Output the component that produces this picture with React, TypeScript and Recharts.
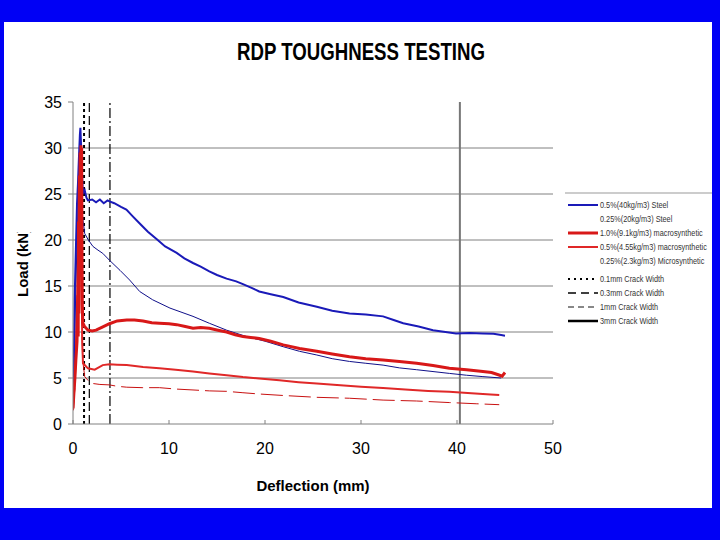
import React from "react";
import {
  LineChart,
  Line,
  XAxis,
  YAxis,
  CartesianGrid,
  ReferenceLine,
  Legend,
  Label,
} from "recharts";

// deflection (mm), load (kN)
const steel40: [number, number][] = [
  [0, 2], [0.08, 6], [0.17, 13.5], [0.3, 19], [0.42, 24], [0.52, 26.2], [0.62, 29],
  [0.72, 31.5], [0.77, 32.2], [0.85, 30], [0.92, 27.5], [1.0, 25.8], [1.1, 25.2],
  [1.22, 25.4], [1.4, 24.6], [1.56, 24.3], [2.0, 24.4], [2.4, 24.1], [2.8, 24.4],
  [3.2, 24.0], [3.6, 24.3], [3.8, 24.2], [4.3, 24.0], [5.0, 23.6], [5.56, 23.3],
  [6.2, 22.6], [6.95, 21.8], [7.8, 20.9], [8.7, 20.1], [9.6, 19.3], [10.8, 18.6],
  [11.6, 18.0], [12.5, 17.5], [13.3, 17.1], [14.2, 16.6], [15.0, 16.2], [16.0, 15.8],
  [17.0, 15.5], [17.7, 15.2], [18.6, 14.8], [19.4, 14.4], [20.6, 14.1], [21.9, 13.8],
  [23.5, 13.2], [25.4, 12.75], [27, 12.3], [28.8, 12.0], [30.5, 11.9], [32.3, 11.7],
  [33.4, 11.3], [34.4, 10.95], [36, 10.6], [37.5, 10.2], [38.8, 10.0], [39.9, 9.85],
  [41.3, 9.9], [42.7, 9.85], [43.8, 9.8], [44.6, 9.67], [45, 9.6],
];

const steel20: [number, number][] = [
  [0, 2], [0.15, 8], [0.3, 15], [0.45, 21], [0.6, 26], [0.72, 29], [0.8, 28], [0.9, 25],
  [1.0, 22.5], [1.22, 20.7], [1.6, 20.0], [2.08, 19.3], [2.6, 18.9], [3.1, 18.55],
  [3.8, 17.8], [4.9, 16.7], [5.9, 15.65], [6.95, 14.4], [8.3, 13.5], [10.1, 12.6],
  [12.5, 11.7], [14.2, 10.95], [16, 10.2], [18.1, 9.5], [20, 9.0], [21.9, 8.4],
  [23.6, 7.9], [25.4, 7.5], [27, 7.1], [28.8, 6.8], [30.5, 6.6], [32.3, 6.4], [34, 6.1],
  [35.8, 5.9], [37.5, 5.7], [39.2, 5.5], [41, 5.3], [42.7, 5.15], [44.6, 5.0],
];

const macro91: [number, number][] = [
  [0, 1.7], [0.1, 3.5], [0.2, 5], [0.3, 7], [0.42, 9], [0.5, 14], [0.54, 9.5], [0.58, 22],
  [0.62, 12], [0.66, 27], [0.7, 16], [0.74, 29.5], [0.78, 20], [0.83, 30.3], [0.87, 24],
  [0.9, 30], [0.94, 18], [0.97, 13], [1.02, 11], [1.2, 10.6], [1.56, 10.2], [2.0, 10.1],
  [2.4, 10.2], [3.0, 10.5], [3.8, 10.9], [4.6, 11.2], [5.6, 11.3], [6.4, 11.3], [7.3, 11.2],
  [8.2, 11.0], [9.0, 10.95], [10.0, 10.9], [10.8, 10.8], [11.7, 10.6], [12.5, 10.4],
  [13.3, 10.5], [14.2, 10.4], [15.1, 10.2], [16, 10.0], [16.9, 9.7], [17.7, 9.5],
  [18.5, 9.4], [19.4, 9.3], [20.6, 9.0], [21.9, 8.6], [23.6, 8.2], [25.4, 7.9], [27, 7.6],
  [28.8, 7.3], [30.5, 7.1], [32.3, 6.95], [34, 6.8], [35.8, 6.6], [37.5, 6.35],
  [39.2, 6.05], [41, 5.9], [42.7, 5.7], [43.6, 5.6], [44.3, 5.35], [44.7, 5.2], [45, 5.6],
];

const macro455: [number, number][] = [
  [0, 1.5], [0.2, 5], [0.4, 12], [0.55, 20], [0.68, 26], [0.76, 28], [0.84, 24], [0.9, 16],
  [0.96, 9], [1.04, 6.6], [1.56, 6.05], [2.26, 5.9], [3.1, 6.4], [3.8, 6.5], [4.6, 6.45],
  [5.6, 6.4], [7.3, 6.2], [9.0, 6.05], [10.7, 5.9], [12.5, 5.7], [14.2, 5.5], [16, 5.3],
  [17.7, 5.1], [19.4, 4.95], [21.5, 4.75], [23.5, 4.55], [25.4, 4.4], [27.5, 4.25],
  [30, 4.05], [32.3, 3.9], [34.6, 3.75], [37, 3.6], [39.2, 3.5], [41.5, 3.35], [43.5, 3.2],
  [44.4, 3.15],
];

const micro23: [number, number][] = [
  [0, 1.5], [0.2, 4], [0.4, 10], [0.55, 17], [0.66, 22], [0.75, 24], [0.82, 20], [0.9, 12],
  [1.0, 7], [1.22, 5.15], [1.6, 4.7], [2.08, 4.4], [2.8, 4.3], [3.8, 4.25], [4.6, 4.1],
  [5.6, 4.0], [7.2, 3.95], [9, 3.95], [10.7, 3.8], [12.5, 3.7], [14.2, 3.6], [16, 3.55],
  [17.7, 3.4], [19.4, 3.26], [21.9, 3.1], [25.4, 2.9], [28.8, 2.8], [32.3, 2.6],
  [35.8, 2.5], [39.2, 2.33], [42, 2.2], [44.4, 2.1],
];

// crack width marker positions (deflection, mm)
const crackLines = [1.15, 1.7, 3.85, 40.3];

const xTicks = [0, 10, 20, 30, 40, 50];
const yTicks = [0, 5, 10, 15, 20, 25, 30, 35];
const gridValues = [5, 10, 15, 20, 25, 30];

const seriesNames = [
  "0.5%(40kg/m3) Steel",
  "0.25%(20kg/m3) Steel",
  "1.0%(9.1kg/m3) macrosynthetic",
  "0.5%(4.55kg/m3) macrosynthetic",
  "0.25%(2.3kg/m3) Microsynthetic",
];
const crackNames = [
  "0.1mm Crack Width",
  "0.3mm Crack Width",
  "1mm Crack Width",
  "3mm Crack Width",
];

const toRows = (pts: [number, number][]) => pts.map(([x, y]) => ({ x, y }));

const FONT = "'Liberation Sans', Arial, sans-serif";

// legend sample styles, in legend order
const legendStyles = [
  { stroke: "#1a1ab8", width: 2, dash: undefined as string | undefined, show: true },
  { stroke: "#10108a", width: 1, dash: undefined, show: false },
  { stroke: "#d81818", width: 3, dash: undefined, show: true },
  { stroke: "#e02828", width: 2, dash: undefined, show: true },
  { stroke: "#c81010", width: 1, dash: undefined, show: false },
  { stroke: "#000", width: 2, dash: "2 4", show: true },
  { stroke: "#000", width: 1.5, dash: "8 5", show: true },
  { stroke: "#888", width: 2, dash: "6 4", show: true },
  { stroke: "#000", width: 2.5, dash: undefined, show: true },
];
const legendRowY = [15, 29, 43, 57, 71, 89, 103, 117, 131];

function LegendBox() {
  const labels = [...seriesNames, ...crackNames];
  return (
    <svg width={147} height={145} style={{ display: "block" }}>
      <line x1={0} y1={3} x2={147} y2={3} stroke="#999" strokeWidth={1} />
      {labels.map((name, i) => {
        const s = legendStyles[i];
        const y = legendRowY[i];
        return (
          <g key={name}>
            {s.show && (
              <line
                x1={3}
                y1={y}
                x2={33}
                y2={y}
                stroke={s.stroke}
                strokeWidth={s.width}
                strokeDasharray={s.dash}
              />
            )}
            <text
              x={0}
              y={y + 3.5}
              fontSize={9.5}
              fontFamily={FONT}
              fill="#333"
              transform="translate(35 0) scale(0.77 1)"
            >
              {name}
            </text>
          </g>
        );
      })}
    </svg>
  );
}

function YLabel() {
  return (
    <g clipPath="url(#ylab-clip)">
      <defs>
        <clipPath id="ylab-clip" clipPathUnits="userSpaceOnUse">
          <rect x={0} y={232} width={60} height={100} />
        </clipPath>
      </defs>
      <text
        transform="translate(28 297) rotate(-90)"
        fontSize={15}
        fontWeight="bold"
        fontFamily={FONT}
        fill="#000"
      >
        Load (kN)
      </text>
    </g>
  );
}

export default function App() {
  return (
    <div
      style={{
        position: "absolute",
        left: 0,
        top: 0,
        width: 720,
        height: 540,
        background: "#0000f5",
        overflow: "hidden",
      }}
    >
      <div
        style={{
          position: "absolute",
          left: 4,
          top: 22,
          width: 708,
          height: 486,
          background: "#fff",
        }}
      />
      <svg
        width={720}
        height={80}
        style={{ position: "absolute", left: 0, top: 0 }}
      >
        <text
          x={361}
          y={60}
          textAnchor="middle"
          fontSize={23}
          fontWeight="bold"
          fontFamily={FONT}
          textLength={248}
          lengthAdjust="spacingAndGlyphs"
          fill="#000"
        >
          RDP TOUGHNESS TESTING
        </text>
      </svg>
      <div style={{ position: "absolute", left: 0, top: 0 }}>
        <LineChart
          width={720}
          height={540}
          margin={{ top: 102, right: 167, bottom: 86, left: 13 }}
        >
          <CartesianGrid
            vertical={false}
            horizontalValues={gridValues}
            stroke="#808080"
            strokeWidth={1}
          />
          <XAxis
            type="number"
            dataKey="x"
            domain={[0, 50]}
            ticks={xTicks}
            height={30}
            allowDataOverflow
            stroke="#808080"
            tickSize={-4}
            tickMargin={23}
            tick={{ fontSize: 16, fontFamily: FONT, fill: "#000" }}
          >
            <Label
              content={() => (
                <text
                  x={313}
                  y={491}
                  textAnchor="middle"
                  fontSize={15}
                  fontWeight="bold"
                  fontFamily={FONT}
                  textLength={113}
                  lengthAdjust="spacingAndGlyphs"
                  fill="#000"
                >
                  Deflection (mm)
                </text>
              )}
            />
          </XAxis>
          <YAxis
            type="number"
            dataKey="y"
            domain={[0, 35]}
            ticks={yTicks}
            width={60}
            stroke="#808080"
            tickSize={5}
            tickMargin={6}
            tick={{ fontSize: 16, fontFamily: FONT, fill: "#000" }}
          >
            <Label content={() => <YLabel />} />
          </YAxis>
          {crackLines.map((x, i) => (
            <ReferenceLine
              key={x}
              x={x}
              stroke={i === 3 ? "#777" : "#000"}
              strokeWidth={i === 0 ? 2 : i === 3 ? 2 : 1.2}
              strokeDasharray={
                i === 0 ? "3 3" : i === 1 ? "9 4" : i === 2 ? "10 3 2 3" : undefined
              }
            />
          ))}
          <Line
            data={toRows(steel20)}
            dataKey="y"
            name={seriesNames[1]}
            stroke="#10108a"
            strokeWidth={1}
            dot={false}
            isAnimationActive={false}
          />
          <Line
            data={toRows(micro23)}
            dataKey="y"
            name={seriesNames[4]}
            stroke="#c81010"
            strokeWidth={1}
            strokeDasharray="22 6"
            dot={false}
            isAnimationActive={false}
          />
          <Line
            data={toRows(macro455)}
            dataKey="y"
            name={seriesNames[3]}
            stroke="#e02828"
            strokeWidth={2}
            dot={false}
            isAnimationActive={false}
          />
          <Line
            data={toRows(steel40)}
            dataKey="y"
            name={seriesNames[0]}
            stroke="#1a1ab8"
            strokeWidth={2}
            dot={false}
            isAnimationActive={false}
          />
          <Line
            data={toRows(macro91)}
            dataKey="y"
            name={seriesNames[2]}
            stroke="#d81818"
            strokeWidth={3}
            dot={false}
            isAnimationActive={false}
          />
          <Legend
            layout="vertical"
            align="center"
            verticalAlign="middle"
            wrapperStyle={{ left: 565, top: 190, width: 147, height: 145 }}
            content={() => <LegendBox />}
          />
        </LineChart>
      </div>
    </div>
  );
}
